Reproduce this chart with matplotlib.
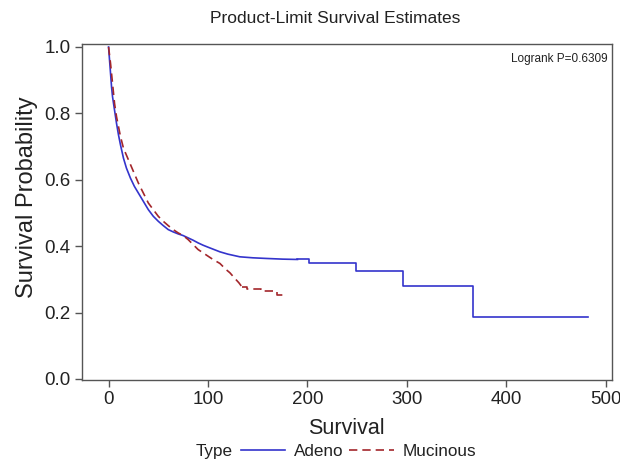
import numpy as np
import matplotlib
matplotlib.use('Agg')
import matplotlib.pyplot as plt
from matplotlib.lines import Line2D

plt.rcParams['font.family'] = ['Liberation Sans', 'DejaVu Sans']

# ── Kaplan-Meier estimates ──────────────────────────────────────────────
# dense early part (many events -> looks smooth), then visible steps
adeno_t = [0, 1, 2, 3, 4, 5, 6, 8, 10, 12, 15, 18, 22, 26, 30, 35, 40, 45, 50,
           55, 60, 65, 70, 75, 80, 85, 90, 95, 100, 106, 112, 120, 132, 145,
           159, 175, 190]
adeno_s = [1.0, 0.96, 0.92, 0.88, 0.85, 0.83, 0.81, 0.77, 0.735, 0.705, 0.665,
           0.635, 0.605, 0.58, 0.56, 0.535, 0.51, 0.49, 0.475, 0.462, 0.45,
           0.443, 0.437, 0.432, 0.425, 0.418, 0.41, 0.403, 0.397, 0.39, 0.383,
           0.376, 0.368, 0.365, 0.363, 0.361, 0.36]
adeno_step_t = [190, 202, 249, 296, 367, 482]
adeno_step_s = [0.36, 0.35, 0.326, 0.28, 0.188, 0.188]

muc_t = [0, 2, 4, 6, 8, 10, 12, 15, 20, 25, 30, 35, 40, 45, 50, 55, 60, 65, 70,
         75, 80, 85, 90, 95, 100, 105, 112, 118, 122, 127, 131, 134]
muc_s = [1.0, 0.95, 0.89, 0.83, 0.79, 0.76, 0.73, 0.695, 0.66, 0.625, 0.59,
         0.56, 0.53, 0.51, 0.49, 0.475, 0.462, 0.45, 0.44, 0.432, 0.42, 0.405,
         0.39, 0.38, 0.37, 0.36, 0.348, 0.33, 0.32, 0.303, 0.29, 0.278]
muc_step_t = [134, 139, 153, 169, 178]
muc_step_s = [0.278, 0.27, 0.265, 0.252, 0.252]

x_ticks = [0, 100, 200, 300, 400, 500]
y_ticks = [0.0, 0.2, 0.4, 0.6, 0.8, 1.0]

BLUE = '#3434cc'
RED = '#a3262b'
FRAME = '#555555'
TXT = '#222222'

fig = plt.figure(figsize=(6.2, 4.63), dpi=100)
ax = fig.add_axes([0.1318, 0.1793, 0.8548, 0.7257])

ax.plot(adeno_t, adeno_s, color=BLUE, lw=1.2)
ax.plot(adeno_step_t, adeno_step_s, drawstyle='steps-post', color=BLUE, lw=1.2)
ax.plot(muc_t, muc_s, color=RED, lw=1.2, dashes=(5, 3))
ax.plot(muc_step_t, muc_step_s, drawstyle='steps-post', color=RED, lw=1.2,
        dashes=(5, 3))

ax.set_xlim(-27, 506)
ax.set_ylim(-0.003, 1.009)
ax.set_xticks(x_ticks)
ax.set_yticks(y_ticks)
ax.set_yticklabels([f'{v:.1f}' for v in y_ticks])
ax.tick_params(direction='out', length=5, width=1, color=FRAME,
               labelsize=13.5, labelcolor=TXT, pad=3)
for sp in ax.spines.values():
    sp.set_color(FRAME)
    sp.set_linewidth(1.0)

ax.set_xlabel('Survival', fontsize=15.5, color=TXT, labelpad=7)
ax.set_ylabel('Survival Probability', fontsize=17, color=TXT)
ax.yaxis.set_label_coords(-0.082, 0.545)
fig.text(0.540, 0.961, 'Product-Limit Survival Estimates', ha='center',
         va='center', fontsize=12.5, color=TXT)

ax.text(0.993, 0.955, 'Logrank P=0.6309', transform=ax.transAxes,
        ha='right', va='center', fontsize=8.5, color=TXT)

# legend row under the x label
fig.text(0.376, 0.024, 'Type', ha='right', va='center', fontsize=12.3,
         color=TXT)
handles = [Line2D([], [], color=BLUE, lw=1.2),
           Line2D([], [], color=RED, lw=1.2, dashes=(5, 3))]
fig.legend(handles, ['Adeno', 'Mucinous'], loc='center',
           bbox_to_anchor=(0.578, 0.024), ncol=2, frameon=False,
           fontsize=12.3, handlelength=2.6, handletextpad=0.5,
           columnspacing=0.35, borderpad=0, borderaxespad=0,
           labelcolor=TXT)

fig.savefig('out.png', dpi=100)
